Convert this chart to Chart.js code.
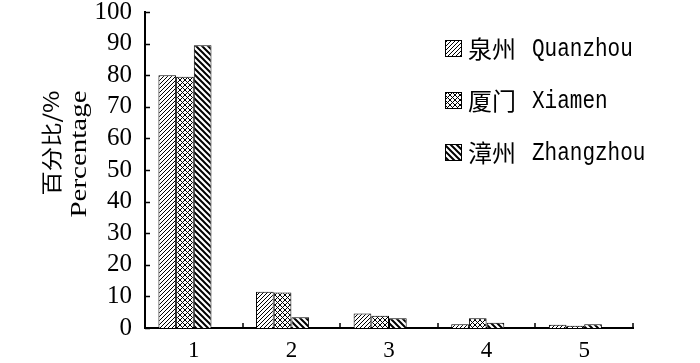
<!DOCTYPE html>
<html>
<head>
<meta charset="utf-8">
<script src="https://cdn.jsdelivr.net/npm/chart.js@4.4.1/dist/chart.umd.min.js"></script>
<style>
  html, body { margin: 0; padding: 0; background: #fff; }
  #wrap { width: 700px; height: 363px; }
</style>
</head>
<body>
<div id="wrap"><canvas id="chart" width="700" height="363"></canvas></div>
<script>
// data
const categories = ['1', '2', '3', '4', '5'];
const quanzhou = [80.0, 11.5, 4.6, 1.2, 1.0];
const xiamen = [79.5, 11.2, 3.9, 3.1, 0.7];
const zhangzhou = [89.5, 3.4, 3.1, 1.7, 1.2];
const seriesNames = ['泉州 Quanzhou', '厦门 Xiamen', '漳州 Zhangzhou'];
const yTicks = [0, 10, 20, 30, 40, 50, 60, 70, 80, 90, 100];

// hatch patterns
function makePattern(kind) {
    const size = kind === 'cross' ? 5 : (kind === 'back' ? 6 : 4);
    const c = document.createElement('canvas');
    c.width = size; c.height = size;
    const g = c.getContext('2d');
    g.fillStyle = '#fff';
    g.fillRect(0, 0, size, size);
    g.strokeStyle = '#000';
    g.lineWidth = kind === 'back' ? 2 : 1;
    g.beginPath();
    if (kind === 'fwd' || kind === 'cross') {
        g.moveTo(-1, size + 1); g.lineTo(size + 1, -1);
        g.moveTo(-1, 1); g.lineTo(1, -1);
        g.moveTo(size - 1, size + 1); g.lineTo(size + 1, size - 1);
    }
    if (kind === 'back' || kind === 'cross') {
        g.moveTo(-1, -1); g.lineTo(size + 1, size + 1);
        g.moveTo(size - 1, -1); g.lineTo(size + 1, 1);
        g.moveTo(-1, size - 1); g.lineTo(1, size + 1);
    }
    g.stroke();
    return g.createPattern(c, 'repeat');
}
const patterns = [makePattern('fwd'), makePattern('cross'), makePattern('back')];

const serifFont = '"Liberation Serif", "Times New Roman", serif';

// draws text at (0,0) squeezed or stretched to a given length
function stretchText(ctx, text, len) {
    const w = ctx.measureText(text).width;
    ctx.save();
    ctx.scale(len / w, 1);
    ctx.fillText(text, 0, 0);
    ctx.restore();
}

// ticks drawn inward, legend and axis title drawn by hand
const extras = {
    id: 'extras',
    afterDraw(chart) {
        const ctx = chart.ctx;
        const area = chart.chartArea;
        const xs = chart.scales.x;
        const ys = chart.scales.y;
        ctx.save();
        ctx.strokeStyle = '#000';
        ctx.lineWidth = 1.5;
        ctx.beginPath();
        yTicks.forEach(v => {
            const py = Math.round(ys.getPixelForValue(v)) + 0.5;
            ctx.moveTo(area.left, py);
            ctx.lineTo(area.left + 5, py);
        });
        const step = xs.getPixelForValue(1) - xs.getPixelForValue(0);
        for (let i = 0; i <= categories.length; i++) {
            const px = Math.round(xs.getPixelForValue(i) - step / 2);
            ctx.moveTo(px, area.bottom);
            ctx.lineTo(px, area.bottom - 5);
        }
        ctx.stroke();

        // legend: chinese name then latin name
        chart.data.datasets.forEach((ds, i) => {
            if (!ds.label) return;
            const bx = 445, by = 40 + i * 52;
            ctx.fillStyle = ds.backgroundColor;
            ctx.fillRect(bx, by, 17, 17);
            ctx.lineWidth = 1;
            ctx.strokeStyle = '#000';
            ctx.strokeRect(bx + 0.5, by + 0.5, 16, 16);
            const parts = ds.label.split(' ');
            ctx.fillStyle = '#000';
            ctx.textBaseline = 'middle';
            ctx.textAlign = 'left';
            ctx.font = '24px "Noto Sans CJK SC"';
            ctx.fillText(parts[0], bx + 23, by + 9);
            ctx.save();
            ctx.translate(bx + 87, by + 9);
            ctx.font = '25px "Liberation Mono", monospace';
            stretchText(ctx, parts[1], parts[1].length * 12.6);
            ctx.restore();
        });

        // y axis title, two rotated lines
        ctx.fillStyle = '#000';
        ctx.textAlign = 'center';
        ctx.textBaseline = 'middle';
        ctx.save();
        ctx.translate(51, 143);
        ctx.rotate(-Math.PI / 2);
        ctx.font = '21px "Noto Sans CJK SC", ' + serifFont;
        stretchText(ctx, '百分比/%', 105);
        ctx.restore();
        ctx.save();
        ctx.translate(80, 154);
        ctx.rotate(-Math.PI / 2);
        ctx.font = '24px ' + serifFont;
        stretchText(ctx, 'Percentage', 127);
        ctx.restore();
        ctx.restore();
    }
};

const barSets = [quanzhou, xiamen, zhangzhou].map((d, i) => ({
    label: seriesNames[i],
    data: d,
    backgroundColor: patterns[i],
    borderColor: '#000',
    borderWidth: 1,
    borderSkipped: 'bottom',
    categoryPercentage: 0.725,
    barPercentage: 1.0
}));
// empty slot on the right of each group: the bars sit left of the category centre
barSets.push({
    label: '',
    data: categories.map(() => null),
    backgroundColor: 'rgba(0,0,0,0)',
    categoryPercentage: 0.725,
    barPercentage: 1.0
});

new Chart(document.getElementById('chart'), {
    type: 'bar',
    data: { labels: categories, datasets: barSets },
    options: {
        responsive: false,
        animation: false,
        layout: { padding: { top: 12, right: 67, left: 0, bottom: 0 } },
        plugins: { legend: { display: false }, tooltip: { enabled: false } },
        scales: {
            x: {
                grid: { display: false },
                border: { display: true, color: '#000', width: 2 },
                ticks: { color: '#000', padding: 1, font: { family: serifFont, size: 23 } },
                afterFit(s) { s.height = 35; s.paddingLeft = 0; s.paddingRight = 0; }
            },
            y: {
                min: 0,
                max: 100,
                grid: { display: false },
                border: { display: true, color: '#000', width: 2 },
                ticks: {
                    stepSize: 10,
                    autoSkip: false,
                    color: '#000',
                    padding: 5,
                    font: { family: serifFont, size: 25 }
                },
                afterFit(s) { s.width = 145; s.paddingTop = 0; s.paddingBottom = 0; }
            }
        }
    },
    plugins: [extras]
});
</script>
</body>
</html>
